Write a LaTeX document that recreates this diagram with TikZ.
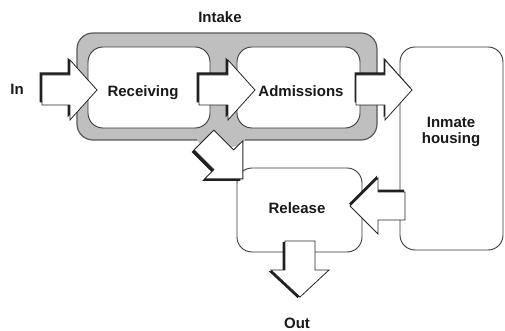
\documentclass[tikz,border=0pt]{standalone}
\usepackage{fontspec}
\setmainfont{Liberation Sans}
% #1 tail (x,y)  #2 angle  #3 length  #4 head length  #5 head half width  #6 shaft half width  #7 shadow shift
\newcommand\blockarrow[7]{%
  \fill[shadowc, shift={#7}, shift={#1}, rotate=#2]
    (0,-#6) -- ({#3-#4},-#6) -- ({#3-#4},-#5) -- (#3,0) -- ({#3-#4},#5) -- ({#3-#4},#6) -- (0,#6) -- cycle;
  \filldraw[arrowbody, shift={#1}, rotate=#2]
    (0,-#6) -- ({#3-#4},-#6) -- ({#3-#4},-#5) -- (#3,0) -- ({#3-#4},#5) -- ({#3-#4},#6) -- (0,#6) -- cycle;
}
\begin{document}
\begin{tikzpicture}[x=1pt,y=-1pt,
  shadowc/.style={black!88},
  arrowbody/.style={fill=white, draw=black!85, line width=0.8pt, line join=miter},
  box/.style={draw=black!78, line width=0.9pt, rounded corners=15pt, fill=white, inner sep=0pt, outer sep=0pt},
  band/.style={draw=black!65, line width=1.2pt, fill=black!25, rounded corners=16pt, inner sep=0pt, outer sep=0pt},
  lbl/.style={font=\fontsize{15}{16}\selectfont\bfseries, text=black!90, inner sep=0pt, anchor=base, align=center},
]
\useasboundingbox (0,0) rectangle (505,331);
% Intake band
\node[band, minimum width=300pt, minimum height=107pt] (intake) at (227,86.5) {};
\fill[black!25] (221,139) ellipse [x radius=24, y radius=9];
% boxes
\node[box, minimum width=122pt, minimum height=81pt] (recv) at (149,87.5) {};
\node[box, minimum width=123pt, minimum height=81pt] (adm) at (298.5,87.5) {};
\node[box, minimum width=103pt, minimum height=203pt] (house) at (451.5,148.5) {};
\node[box, minimum width=125pt, minimum height=84pt] (rel) at (299.5,210) {};
% arrows
\blockarrow{(42,90)}{0}{55}{27}{30}{15}{(-2.5,-2.5)}
\blockarrow{(199,90)}{0}{56}{27}{30}{15}{(-2.5,-2.5)}
\blockarrow{(356,90)}{0}{56}{27}{30}{15}{(-1.5,-2.5)}
\blockarrow{(204,140)}{-45}{55}{27}{27}{14}{(-2.5,2)}
\blockarrow{(405,206)}{180}{55}{28}{28}{14}{(-1,-2.5)}
\blockarrow{(300,241)}{-90}{56}{27}{29}{15}{(-2.5,1)}
% labels
\node[lbl] (tIntake) at (220,23) {Intake};
\node[lbl] (tIn) at (17,95) {In};
\node[lbl] (tRecv) at (143,97) {Receiving};
\node[lbl] (tAdm) at (301,97) {Admissions};
\node[lbl] (tHouse) at (451,143) {Inmate\\housing};
\node[lbl] (tRel) at (297,213) {Release};
\node[lbl] (tOut) at (297,328) {Out};
\end{tikzpicture}
\end{document}
